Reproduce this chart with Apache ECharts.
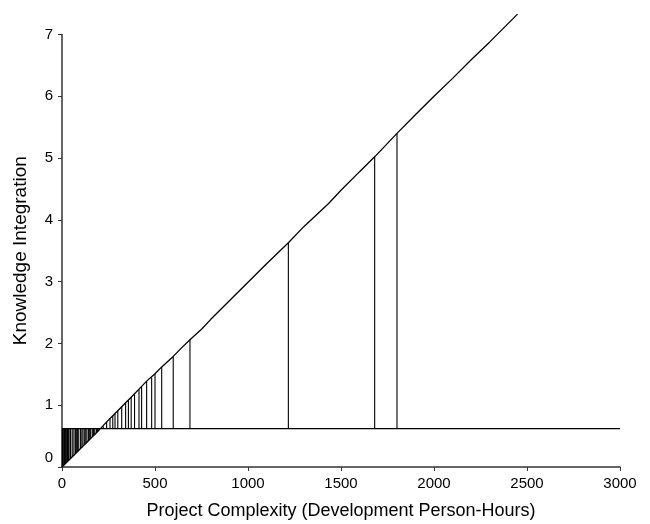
<!DOCTYPE html>
<html>
<head>
<meta charset="utf-8">
<script src="https://cdn.jsdelivr.net/npm/echarts@6/dist/echarts.min.js"></script>
<style>
  html, body { margin: 0; padding: 0; background: #fff; }
  #chart { width: 650px; height: 524px; }
</style>
</head>
<body>
<div id="chart"></div>
<script>
// axis ranges
const xRange = [0, 3000];
const yRange = [0, 7];

// threshold line (knowledge integration floor)
const baseLevel = 0.62;

// the rising curve
const curveX = [0, 50, 100, 150, 200, 240, 273, 300, 342, 372, 414, 455, 500, 536, 598, 640, 688, 750, 800, 900,
  1000, 1100, 1217, 1300, 1432, 1500, 1600, 1681, 1801, 1900, 2000, 2100, 2200, 2300, 2449];
const curveY = [0, 0.15, 0.30, 0.45, 0.60, 0.73, 0.83, 0.91, 1.04, 1.13, 1.26, 1.39, 1.51, 1.62, 1.79, 1.92, 2.06, 2.23, 2.39, 2.69,
  2.99, 3.29, 3.63, 3.89, 4.26, 4.48, 4.78, 5.02, 5.40, 5.70, 6.00, 6.29, 6.59, 6.88, 7.33];

// projects: complexity and where each drop line ends on the curve
const projectX = [2, 6, 10, 14, 18, 22, 26, 30, 34, 38, 46, 55, 64, 72, 77, 84, 90, 100, 107, 113, 122, 128, 134, 143,
  149, 154, 163, 170, 176, 185, 190, 194, 200,
  222, 240, 258, 273, 285, 300, 321, 342, 357, 372, 390, 414, 428, 455, 482, 500, 536, 598, 688, 1217, 1681, 1801];
const projectY = [0.01, 0.02, 0.03, 0.04, 0.05, 0.07, 0.08, 0.09, 0.10, 0.11, 0.14, 0.16, 0.19, 0.22, 0.23, 0.25, 0.27, 0.30, 0.32, 0.34, 0.37, 0.38, 0.40, 0.43,
  0.45, 0.46, 0.49, 0.51, 0.53, 0.55, 0.57, 0.58, 0.60,
  0.66, 0.73, 0.78, 0.83, 0.86, 0.91, 0.98, 1.04, 1.08, 1.13, 1.18, 1.26, 1.30, 1.39, 1.45, 1.51, 1.62, 1.79, 2.06, 3.63, 5.02, 5.40];

const font = '"Liberation Sans", Arial, sans-serif';

const chart = echarts.init(document.getElementById('chart'), null, { renderer: 'canvas' });

const axisCommon = {
  type: 'value',
  splitLine: { show: false },
  axisLine: { show: true, lineStyle: { color: '#333', width: 1.5 } },
  axisTick: { show: true, inside: false, length: 4, lineStyle: { color: '#333', width: 1 } },
};

chart.setOption({
  animation: false,
  backgroundColor: '#fff',
  grid: { left: 62, right: 30, top: 34.5, bottom: 57, containLabel: false, outerBoundsMode: 'none' },
  xAxis: {
    ...axisCommon,
    min: xRange[0],
    max: xRange[1],
    interval: 500,
    axisLabel: { color: '#000', fontSize: 15, fontFamily: font, margin: 9, formatter: (v) => String(v) },
    name: 'Project Complexity (Development Person-Hours)',
    nameLocation: 'middle',
    nameGap: 35,
    nameTextStyle: { color: '#000', fontSize: 18, fontFamily: font },
  },
  yAxis: {
    ...axisCommon,
    min: yRange[0],
    max: yRange[1],
    interval: 1,
    axisLabel: {
      color: '#000', fontSize: 15, fontFamily: font, margin: 9,
      formatter: (v) => (v === 0 ? '{zero|0}' : String(v)),
      rich: { zero: { color: '#000', fontSize: 15, fontFamily: font, padding: [0, 0, 18, 0] } },
    },
    name: 'Knowledge Integration',
    nameLocation: 'middle',
    nameGap: 32,
    nameRotate: 90,
    nameTextStyle: { color: '#000', fontSize: 19, fontFamily: font },
  },
  series: [
    {
      type: 'custom',
      silent: true,
      clip: false,
      data: projectX.map((x, i) => [x, projectY[i]]),
      encode: { x: 0, y: 1 },
      renderItem: (params, api) => {
        const x = api.value(0);
        const p0 = api.coord([x, baseLevel]);
        const p1 = api.coord([x, api.value(1)]);
        return {
          type: 'line',
          shape: { x1: p0[0], y1: p0[1], x2: p1[0], y2: p1[1] },
          style: { stroke: '#000', lineWidth: 1.1 },
        };
      },
    },
    {
      type: 'line',
      silent: true,
      symbol: 'none',
      data: xRange.map((x) => [x, baseLevel]),
      lineStyle: { color: '#000', width: 1.3 },
    },
    {
      type: 'line',
      silent: true,
      symbol: 'none',
      clip: false,
      data: curveX.map((x, i) => [x, curveY[i]]),
      lineStyle: { color: '#000', width: 1.3 },
    },
  ],
});
</script>
</body>
</html>
